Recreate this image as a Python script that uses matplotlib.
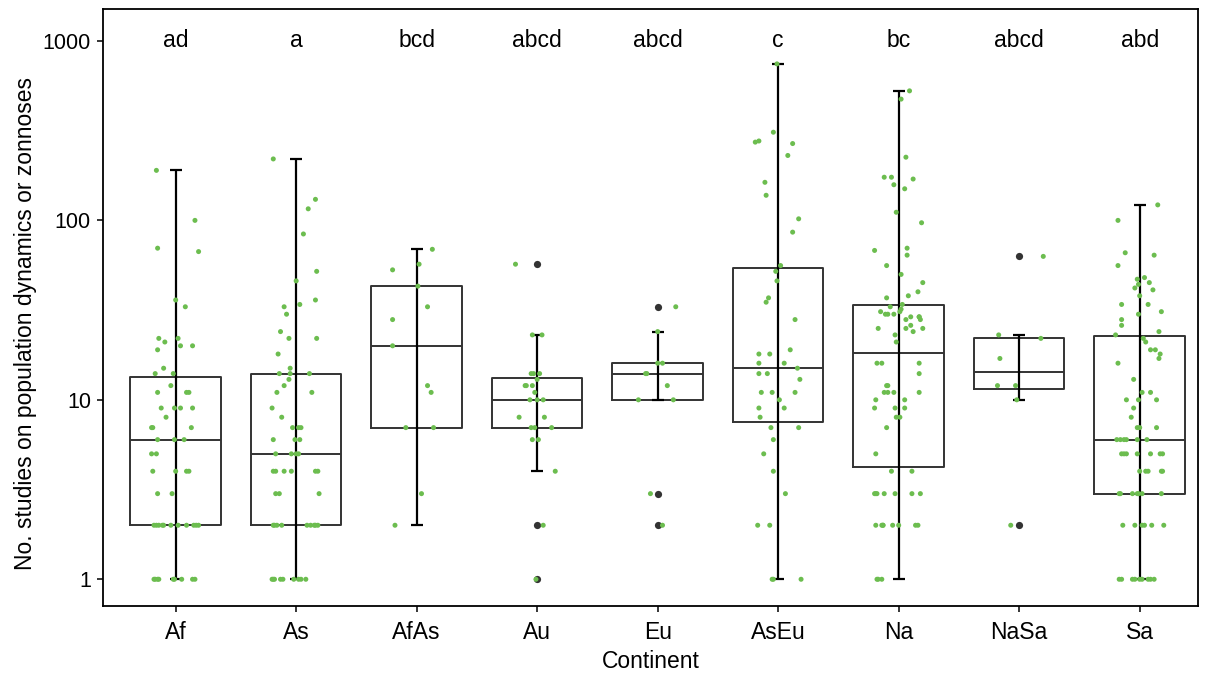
import numpy as np
import matplotlib
matplotlib.use("Agg")
import matplotlib.pyplot as plt
from matplotlib import cbook
from matplotlib.ticker import NullLocator

plt.rcParams['font.family'] = ['Liberation Sans', 'DejaVu Sans']

continents = ["Af", "As", "AfAs", "Au", "Eu", "AsEu", "Na", "NaSa", "Sa"]
letters = ["ad", "a", "bcd", "abcd", "abcd", "c", "bc", "abcd", "abd"]

# number of studies per species, and the horizontal jitter
af_vals = [190, 100, 70, 67, 36, 33, 22, 21, 22, 20,
           20, 19, 15, 14, 14, 12, 11, 11, 11, 9,
           9, 9, 9, 8, 7, 7, 7, 6, 6, 6,
           5, 5, 4, 4, 4, 4, 3, 3,
           2, 2, 2, 2, 2, 2, 2, 2, 2, 2, 2,
           1, 1, 1, 1, 1, 1, 1, 1, 1]
af_jit = [-0.16, 0.16, -0.15, 0.19, 0.0, 0.08, -0.14, -0.09, 0.02, 0.04,
          0.14, -0.15, -0.10, -0.17, -0.02, -0.04, -0.15, 0.09, 0.11, -0.12,
          -0.01, 0.04, 0.14, -0.08, -0.20, -0.19, 0.13, -0.15, -0.01, 0.07,
          -0.20, -0.16, -0.19, 0.0, 0.09, 0.11, -0.15, -0.03,
          -0.18, -0.16, -0.14, -0.11, -0.10, -0.04, 0.02, 0.09, 0.15, 0.17, 0.19,
          -0.18, -0.17, -0.15, -0.14, -0.02, -0.01, 0.05, 0.14, 0.16]

as_vals = [220, 131, 116, 84, 52, 46, 36, 34, 33, 30,
           24, 22, 22, 18, 15, 14, 14, 14, 13, 12,
           11, 11, 9, 8, 7, 7, 7, 6, 6, 6,
           5, 5, 5, 5, 4, 4, 4, 4, 4, 4,
           3, 3, 3,
           2, 2, 2, 2, 2, 2, 2, 2, 2,
           1, 1, 1, 1, 1, 1, 1, 1, 1]
as_jit = [-0.19, 0.16, 0.10, 0.06, 0.17, 0.0, 0.16, 0.03, -0.10, -0.08,
          -0.13, -0.06, 0.17, -0.15, -0.05, -0.14, -0.05, 0.11, -0.06, -0.10,
          -0.16, 0.13, -0.20, -0.12, -0.03, 0.02, 0.04, -0.19, -0.01, 0.03,
          -0.17, -0.04, 0.0, 0.02, -0.19, -0.17, -0.10, -0.04, 0.16, 0.18,
          -0.17, -0.14, 0.19,
          -0.19, -0.18, -0.16, -0.12, 0.09, 0.12, 0.15, 0.16, 0.18,
          -0.20, -0.19, -0.18, -0.13, -0.11, -0.02, 0.02, 0.04, 0.08]

afas_vals = [69, 53, 57, 43, 33, 28, 20, 12, 11, 7, 7, 3, 2]
afas_jit = [0.13, -0.20, 0.02, 0.01, 0.09, -0.20, -0.20, 0.09, 0.12, -0.09, 0.14, 0.04, -0.18]

au_vals = [57, 23, 23, 14, 14, 14, 13, 12, 12, 12,
           11, 10, 10, 10, 8, 8, 7, 7, 7, 6,
           6, 4, 2, 1]
au_jit = [-0.18, -0.04, 0.04, -0.05, -0.03, 0.02, 0.0, -0.10, -0.09, -0.04,
          -0.02, -0.06, 0.0, 0.05, -0.15, 0.06, -0.05, -0.02, 0.12, -0.04,
          0.01, 0.15, 0.05, -0.01]

eu_vals = [33, 24, 16, 16, 14, 14, 12, 10, 10, 3, 2]
eu_jit = [0.15, 0.0, 0.0, 0.04, -0.10, -0.09, 0.08, -0.16, 0.13, -0.06, 0.04]

aseu_vals = [745, 310, 273, 277, 268, 230, 163, 138, 102, 86,
             56, 52, 46, 37, 35, 28, 19, 18, 18, 16,
             16, 15, 14, 14, 13, 11, 11, 11, 10, 9,
             9, 8, 7, 7, 6, 5, 4, 3, 2, 2,
             1, 1, 1]
aseu_jit = [-0.01, -0.04, -0.19, -0.16, 0.12, 0.08, -0.11, -0.10, 0.17, 0.12,
            0.02, -0.02, -0.01, -0.08, -0.10, 0.14, 0.10, -0.16, -0.07, -0.16,
            0.05, 0.16, -0.16, -0.09, 0.18, -0.14, -0.05, 0.14, 0.01, -0.16,
            0.05, -0.15, -0.06, 0.17, -0.04, -0.12, -0.04, 0.06, -0.17, -0.07,
            -0.04, 0.19, -0.05]

na_vals = [527, 474, 225, 174, 174, 170, 158, 150, 111, 97,
           68, 70, 64, 56, 50, 45, 40, 37, 38, 34,
           33, 32, 31, 31, 30, 30, 30, 29, 29, 28,
           25, 25, 25, 28, 26, 24, 23, 21, 16, 16,
           16, 14, 12, 12, 11, 11, 11, 11, 10, 10,
           9, 9, 9, 8, 8, 7, 5, 4, 4, 3,
           3, 3, 3, 3, 3, 3, 2, 2, 2, 2,
           2, 2, 2, 2, 1, 1, 1, 29]
na_jit = [0.09, 0.02, 0.06, -0.12, -0.06, 0.12, -0.04, 0.05, -0.02, 0.19,
          -0.20, 0.07, 0.07, -0.10, 0.02, 0.20, 0.16, -0.10, 0.08, 0.03,
          -0.07, 0.02, -0.15, 0.01, -0.11, -0.09, -0.04, 0.10, 0.17, 0.18,
          0.06, -0.17, 0.20, 0.06, 0.10, 0.12, -0.03, -0.02, -0.18, -0.14,
          0.17, 0.17, -0.10, -0.09, -0.12, -0.09, -0.04, 0.17, -0.19, 0.05,
          -0.20, -0.03, 0.05, -0.02, 0.01, -0.10, -0.19, -0.06, 0.11, -0.20,
          -0.18, -0.12, -0.03, 0.11, 0.18, -0.19, -0.19, -0.14, -0.13, -0.05,
          0.0, 0.14, 0.16, -0.13, -0.18, -0.14, -0.17, 0.17]

nasa_vals = [63, 23, 22, 17, 12, 12, 10, 2]
nasa_jit = [0.20, -0.17, 0.18, -0.16, -0.18, -0.03, -0.02, -0.07]

sa_vals = [122, 100, 66, 64, 56, 48, 47, 45, 44, 42,
           41, 38, 34, 34, 31, 30, 28, 26, 23, 24,
           22, 21, 19, 19, 18, 17, 16, 13, 11, 11,
           10, 10, 10, 9, 8, 7, 7, 7, 6, 6,
           6, 6, 6, 6, 5, 5, 5, 5, 5, 5,
           5, 4, 4, 4, 4, 4, 3, 3, 3, 3,
           3, 3, 3, 2, 2, 2, 2, 2, 2, 1,
           1, 1, 1, 1, 1, 1, 1, 1]
sa_jit = [0.15, -0.18, -0.12, 0.12, -0.18, 0.04, -0.02, 0.08, -0.01, -0.04,
          0.11, 0.0, -0.15, 0.07, 0.18, -0.01, -0.15, -0.15, -0.20, 0.16,
          0.03, 0.05, 0.09, 0.13, 0.17, 0.16, -0.18, -0.05, 0.02, 0.09,
          -0.11, -0.01, 0.14, -0.05, -0.07, -0.02, 0.0, 0.14, -0.19, -0.16,
          -0.13, -0.11, -0.02, 0.06, -0.15, -0.13, -0.11, -0.02, 0.09, 0.17,
          0.19, 0.0, 0.05, 0.07, 0.18, 0.19, -0.17, -0.16, -0.06, -0.02,
          -0.01, 0.02, 0.18, -0.14, -0.04, 0.02, 0.04, 0.10, 0.20, -0.17,
          -0.15, -0.06, -0.04, 0.0, 0.02, 0.07, 0.09, 0.12]

groups = [af_vals, as_vals, afas_vals, au_vals, eu_vals, aseu_vals, na_vals, nasa_vals, sa_vals]
jitters = [af_jit, as_jit, afas_jit, au_jit, eu_jit, aseu_jit, na_jit, nasa_jit, sa_jit]

W, H = 1208, 675
fig = plt.figure(figsize=(W / 100, H / 100), dpi=100)
ax = fig.add_axes([103.5 / W, (H - 606) / H, (1198 - 103.5) / W, (606 - 9) / H])
ax.set_yscale('log')

positions = np.arange(1, len(continents) + 1)

# box statistics are computed on the log scale, like ggplot does with scale_y_log10
stats = []
for vals in groups:
    s = cbook.boxplot_stats(np.log10(vals), whis=1.5)[0]
    for k in ('med', 'q1', 'q3', 'whislo', 'whishi', 'mean', 'cilo', 'cihi'):
        s[k] = 10 ** s[k]
    s['fliers'] = 10 ** np.asarray(s['fliers'])
    stats.append(s)

ax.bxp(stats, positions=positions, widths=0.75, showcaps=False,
       boxprops=dict(color='#333333', linewidth=1.4),
       medianprops=dict(color='#333333', linewidth=1.4),
       whiskerprops=dict(linestyle='none'),
       flierprops=dict(marker='o', markerfacecolor='#333333', markeredgecolor='none', markersize=5.2),
       zorder=2)

for p, s in zip(positions, stats):
    ax.errorbar(p, s['med'], yerr=[[s['med'] - s['whislo']], [s['whishi'] - s['med']]],
                fmt='none', ecolor='black', elinewidth=1.6, capsize=4.2, capthick=1.6, zorder=3)

for p, vals, jit in zip(positions, groups, jitters):
    ax.scatter(p + np.array(jit), vals, s=13, color='#6cbd4f', edgecolors='none', zorder=4)

fs = 16.5
for p, lab in zip(positions, letters):
    ax.text(p, 1000, lab, ha='center', va='center', fontsize=fs, color='black')

ax.set_xlim(0.401, 9.484)
ax.set_ylim(10 ** -0.149, 10 ** 3.178)
ax.set_xticks(positions)
ax.set_xticklabels(continents)
ax.set_yticks([1, 10, 100, 1000])
ax.set_yticklabels(['1', '10', '100', '1000'])
ax.yaxis.set_minor_locator(NullLocator())
ax.tick_params(axis='both', direction='out', length=4, width=1.1, color='black',
               labelcolor='black')
ax.tick_params(axis='x', pad=7, labelsize=fs)
ax.tick_params(axis='y', pad=5, labelsize=15.5)
for sp in ax.spines.values():
    sp.set_linewidth(1.3)
    sp.set_color('black')

ax.set_xlabel('Continent', fontsize=fs, labelpad=4)
ax.set_ylabel('No. studies on population dynamics or zonnoses', fontsize=fs)
ax.yaxis.set_label_coords(-0.061, 0.473)

fig.savefig('out.png', dpi=100)
